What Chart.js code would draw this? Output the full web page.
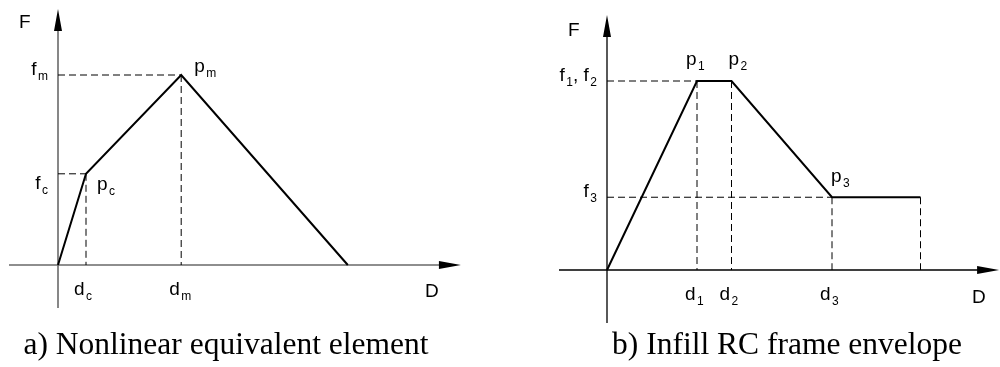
<!DOCTYPE html>
<html>
<head>
<meta charset="utf-8">
<script src="https://cdn.jsdelivr.net/npm/chart.js@4.4.1/dist/chart.umd.min.js"></script>
<style>
  body { margin: 0; background: #fff; }
  #lienzo { position: relative; width: 1000px; height: 367px; overflow: hidden; }
  .panel { position: absolute; top: 0; width: 500px; height: 367px; }
  .pie { position: absolute; top: 326px; width: 460px; text-align: center; white-space: nowrap;
         font-family: "Liberation Serif", "Times New Roman", serif; font-size: 31.5px; line-height: 36px; color: #000; }
</style>
</head>
<body>
<div id="lienzo">
  <div class="panel" style="left:0"><canvas id="graficoA"></canvas></div>
  <div class="panel" style="left:500px"><canvas id="graficoB"></canvas></div>
  <div class="pie" style="left:-4px">a) Nonlinear equivalent element</div>
  <div class="pie" style="left:557px">b) Infill RC frame envelope</div>
</div>
<script>
// a) Elemento equivalente no lineal: origen, (dc, fc), (dm, fm), rotura
const desplA = [0, 1, 4.4, 10.35];
const fuerzaA = [0, 4.8, 10, 0];
const nombresA = ['', 'c', 'm', ''];

// b) Envolvente del portico con relleno: origen, p1, p2, p3, final
const desplB = [0, 3.0, 4.15, 7.5, 10.45];
const fuerzaB = [0, 10, 10, 3.85, 3.85];
const nombresB = ['', '1', '2', '3', ''];

// lineas de referencia discontinuas: [indice del punto, horizontal?, vertical?]
const guiasA = [[1, true, true], [2, true, true]];
const guiasB = [[1, true, true], [2, false, true], [3, true, true], [4, false, true]];

const fuente = '19px "Liberation Sans", Arial, sans-serif';
const fuenteSub = '12px "Liberation Sans", Arial, sans-serif';

function puntos(xs, ys) {
    return xs.map((v, i) => ({ x: v, y: ys[i] }));
}

function datasetsGuias(xs, ys, guias) {
    const sets = [];
    guias.forEach(([i, hor, ver]) => {
        if (hor) sets.push({ data: [{ x: 0, y: ys[i] }, { x: xs[i], y: ys[i] }] });
        if (ver) sets.push({ data: [{ x: xs[i], y: ys[i] }, { x: xs[i], y: 0 }] });
    });
    return sets.map(s => Object.assign(s, {
        showLine: true, borderColor: '#000', borderWidth: 1, borderDash: [7, 4], order: 2
    }));
}

// ejes con flecha y rotulos con subindice
const esquema = {
    id: 'esquema',
    beforeDatasetsDraw(chart, args, o) {
        const { ctx, scales: { x, y } } = chart;
        const ox = x.getPixelForValue(0), oy = y.getPixelForValue(0);
        const xa = x.getPixelForValue(o.ejeX[0]), xb = x.getPixelForValue(o.ejeX[1]);
        const ya = y.getPixelForValue(o.ejeY[0]), yb = y.getPixelForValue(o.ejeY[1]);
        const L = 22, w = 4;
        ctx.save();
        ctx.strokeStyle = o.colorEje;
        ctx.fillStyle = '#000';
        ctx.lineWidth = o.anchoEje;
        ctx.beginPath();
        ctx.moveTo(xa, oy); ctx.lineTo(xb - L + 2, oy);
        ctx.moveTo(ox, ya); ctx.lineTo(ox, yb + L - 2);
        ctx.stroke();
        ctx.beginPath();
        ctx.moveTo(xb, oy); ctx.lineTo(xb - L, oy - w); ctx.lineTo(xb - L, oy + w); ctx.closePath();
        ctx.moveTo(ox, yb); ctx.lineTo(ox - w, yb + L); ctx.lineTo(ox + w, yb + L); ctx.closePath();
        ctx.fill();
        ctx.restore();
    },
    afterDatasetsDraw(chart, args, o) {
        const { ctx, scales: { x, y } } = chart;
        ctx.save();
        ctx.fillStyle = '#000';
        ctx.textBaseline = 'alphabetic';
        o.rotulos.forEach(r => {
            const px = x.getPixelForValue(r.x) + r.dx;
            const py = y.getPixelForValue(r.y) + r.dy;
            // ancho total para alinear a la derecha
            let ancho = 0;
            r.partes.forEach(([t, sub]) => {
                ctx.font = sub ? fuenteSub : fuente;
                ancho += ctx.measureText(t).width + (sub ? 1.5 : 0);
            });
            let cx = r.derecha ? px - ancho : px;
            r.partes.forEach(([t, sub]) => {
                ctx.font = sub ? fuenteSub : fuente;
                if (sub) cx += 1.5;
                ctx.fillText(t, cx, py + (sub ? 5 : 0));
                cx += ctx.measureText(t).width;
            });
        });
        ctx.restore();
    }
};

function rotulosPanel(xs, ys, nombres, cfg) {
    const r = [];
    cfg.puntos.forEach(([i, dx, dy]) => r.push({ x: xs[i], y: ys[i], dx, dy, partes: [['p'], [nombres[i], true]] }));
    cfg.desplaz.forEach(([i, dy]) => r.push({ x: xs[i], y: 0, dx: -12, dy, partes: [['d'], [nombres[i], true]] }));
    cfg.fuerzas.forEach(([partes, i, dy]) => r.push({ x: 0, y: ys[i], dx: -10, dy, derecha: true, partes }));
    r.push({ x: cfg.ejeX[1], y: 0, dx: cfg.D[0], dy: cfg.D[1], partes: [['D']] });
    r.push({ x: 0, y: cfg.ejeY[1], dx: cfg.F[0], dy: cfg.F[1], partes: [['F']] });
    return r;
}

function crearGrafico(id, xs, ys, guias, escala, o) {
    new Chart(document.getElementById(id), {
        type: 'scatter',
        data: {
            datasets: [{
                data: puntos(xs, ys),
                showLine: true,
                borderColor: '#000',
                borderWidth: 2,
                order: 1
            }].concat(datasetsGuias(xs, ys, guias))
        },
        options: {
            responsive: true,
            maintainAspectRatio: false,
            animation: false,
            events: [],
            layout: { padding: 0 },
            elements: { point: { radius: 0 }, line: { tension: 0, borderJoinStyle: 'miter' } },
            scales: {
                x: { type: 'linear', display: false, min: escala.x[0], max: escala.x[1] },
                y: { type: 'linear', display: false, min: escala.y[0], max: escala.y[1] }
            },
            plugins: {
                legend: { display: false },
                tooltip: { enabled: false },
                esquema: o
            }
        },
        plugins: [esquema]
    });
}

const ejeA = { x: [-1.75, 14.39], y: [-2.26, 13.47] };
crearGrafico('graficoA', desplA, fuerzaA, guiasA,
    { x: [-58 / 28, 442 / 28], y: [-102 / 19, 265 / 19] },
    {
        ejeX: ejeA.x, ejeY: ejeA.y, colorEje: '#6a6a6a', anchoEje: 1.6,
        rotulos: rotulosPanel(desplA, fuerzaA, nombresA, {
            puntos: [[1, 11, 16], [2, 13, -3]],
            desplaz: [[1, 30], [2, 30]],
            fuerzas: [[[['f'], ['c', true]], 1, 15], [[['f'], ['m', true]], 2, 0]],
            ejeX: ejeA.x, ejeY: ejeA.y, D: [-36, 32], F: [-39, 19]
        })
    });

const ejeB = { x: [-1.6, 13.07], y: [-2.8, 13.49] };
crearGrafico('graficoB', desplB, fuerzaB, guiasB,
    { x: [-107 / 30, 393 / 30], y: [-97 / 18.9, 270 / 18.9] },
    {
        ejeX: ejeB.x, ejeY: ejeB.y, colorEje: '#000', anchoEje: 1.3,
        rotulos: rotulosPanel(desplB, fuerzaB, nombresB, {
            puntos: [[1, -11, -16], [2, -3, -16], [3, -1, -15]],
            desplaz: [[1, 30], [2, 30], [3, 30]],
            fuerzas: [[[['f'], ['1', true], [', f'], ['2', true]], 1, 0], [[['f'], ['3', true]], 3, 0]],
            ejeX: ejeB.x, ejeY: ejeB.y, D: [-27, 33], F: [-39, 21]
        })
    });
</script>
</body>
</html>
